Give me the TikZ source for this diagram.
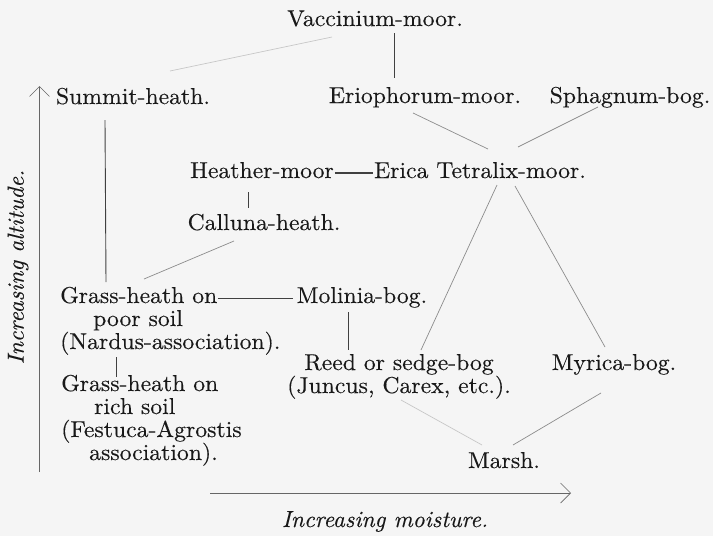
\documentclass[tikz,border=0pt]{standalone}
\usepackage{fontspec}
\newfontfamily\plantfont{lmroman10-regular}[Extension=.otf, FakeStretch=1.03, FakeBold=0.25]
\newfontfamily\axisfont{lmroman10-italic}[Extension=.otf, FakeBold=0.25]
\usetikzlibrary{arrows.meta}
\begin{document}
\begin{tikzpicture}[x=1pt, y=-1pt,
    plant/.style={font=\plantfont\fontsize{23}{23}\selectfont, text=black!90, inner sep=0pt, anchor=base},
    axislabel/.style={font=\axisfont\fontsize{23.3}{24}\selectfont, text=black!90, inner sep=0pt},
    link/.style={draw=black!75, line width=0.9pt},
    faint/.style={draw=black!45, line width=0.7pt},
    ghost/.style={draw=black!22, line width=0.7pt},
    axis/.style={draw=black!60, line width=0.7pt, -{Straight Barb[length=10pt,width=20pt]}}]
  \fill[black!4] (0,0) rectangle (713,536);
  \useasboundingbox (0,0) rectangle (713,536);

  % Top row
  \node[plant] (vacc) at (375,26) {Vaccinium-moor.};
  \node[plant] (summit) at (133,104) {Summit-heath.};
  \node[plant] (erio) at (425,103) {Eriophorum-moor.};
  \node[plant] (sphag) at (630,103) {Sphagnum-bog.};
  % Moor row
  \node[plant] (heather) at (262,178) {Heather-moor};
  \node[plant] (erica) at (480,178) {Erica Tetralix-moor.};
  \node[plant] (calluna) at (264,230) {Calluna-heath.};
  % Grass-heath row (base = last line)
  \node[plant, anchor=base west, align=left] (nardus) at (60,349) {Grass-heath on\\\hspace*{33pt}poor soil\\(Nardus-association).};
  \node[plant] (molinia) at (362,303) {Molinia-bog.};
  % Bog row
  \node[plant, align=center] (reed) at (399,393) {Reed or sedge-bog\\(Juncus, Carex, etc.).};
  \node[plant] (myrica) at (614,370) {Myrica-bog.};
  \node[plant, anchor=base west, align=left] (festuca) at (61,460) {Grass-heath on\\\hspace*{33pt}rich soil\\(Festuca-Agrostis\\\hspace*{28pt}association).};
  \node[plant] (marsh) at (504,468) {Marsh.};

  % Axes
  \coordinate (altlow) at (39.5,472);
  \coordinate (althigh) at (39.5,86);
  \coordinate (moistlow) at (210,493);
  \coordinate (moisthigh) at (571,493);
  \node[axislabel, rotate=90] (altitude) at (18,267) {Increasing altitude.};
  \node[axislabel, anchor=base] (moisture) at (385,527) {Increasing moisture.};
  \draw[axis] (altlow) -- (althigh);
  \draw[axis] (moistlow) -- (moisthigh);

  % Solid links
  \draw[link] ([shift={(19,7)}]vacc.base) -- ([shift={(-31,-25)}]erio.base);
  \draw[link, line width=1.3pt] ([shift={(1,-5)}]heather.base east) -- ([shift={(-1,-5)}]erica.base west);
  \draw[link] ([shift={(-14,14)}]heather.base) -- ([shift={(-16,-22)}]calluna.base);
  \draw[link] ([shift={(-28,16)}]summit.base) -- ([shift={(46,-67)}]nardus.base west);
  \draw[link] ([shift={(158,-51)}]nardus.base west) -- ([shift={(-4,-5)}]molinia.base west);
  \draw[link] ([shift={(-14,9)}]molinia.base) -- ([shift={(-51,-43)}]reed.base);
  \draw[link] ([shift={(56,8)}]nardus.base west) -- ([shift={(55,-83)}]festuca.base west);
  % Faint links
  \draw[ghost] ([shift={(37,-33)}]summit.base) -- ([shift={(-43,11)}]vacc.base);
  \draw[faint] ([shift={(-12,10)}]erio.base) -- ([shift={(8,-29)}]erica.base);
  \draw[faint] ([shift={(-32,4)}]sphag.base) -- ([shift={(38,-31)}]erica.base);
  \draw[faint] ([shift={(-30,11)}]calluna.base) -- ([shift={(84,-70)}]nardus.base west);
  \draw[faint] ([shift={(17,7)}]erica.base) -- ([shift={(22,-43)}]reed.base);
  \draw[faint] ([shift={(35,8)}]erica.base) -- ([shift={(-9,-23)}]myrica.base);
  \draw[faint] ([shift={(-13,23)}]myrica.base) -- ([shift={(9,-23)}]marsh.base);
  \draw[ghost] ([shift={(2,7)}]reed.base) -- ([shift={(-22,-23)}]marsh.base);
\end{tikzpicture}
\end{document}
